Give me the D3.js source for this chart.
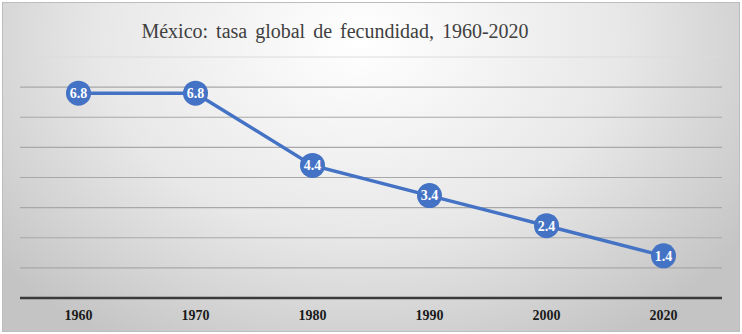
<!DOCTYPE html>
<html lang="es">
<head>
<meta charset="UTF-8">
<title>México: tasa global de fecundidad</title>
<script src="https://d3js.org/d3.v7.min.js"></script>
<style>
  body { margin: 0; }
  .serif { font-family: "Liberation Serif", "Times New Roman", serif; }
</style>
</head>
<body>
<div class="chart"></div>
<script>
  const years = ['1960', '1970', '1980', '1990', '2000', '2020'];
  const fecundidad = [6.8, 6.8, 4.4, 3.4, 2.4, 1.4];
  const yTicks = [0, 1, 2, 3, 4, 5, 6, 7, 8];

  const W = 742, H = 334;
  const plot = { left: 20, right: 722, top: 57, bottom: 298 };

  const svg = d3.select('.chart').append('svg')
    .attr('width', W).attr('height', H);

  const defs = svg.append('defs');
  const grad = defs.append('radialGradient').attr('id', 'bg')
    .attr('gradientUnits', 'userSpaceOnUse')
    .attr('cx', 360).attr('cy', 40).attr('r', 470)
    .attr('gradientTransform', 'translate(360 40) scale(1 0.75) translate(-360 -40)');
  grad.append('stop').attr('offset', '0%').attr('stop-color', '#ffffff');
  grad.append('stop').attr('offset', '55%').attr('stop-color', '#e8e8e8');
  grad.append('stop').attr('offset', '100%').attr('stop-color', '#c4c4c4');

  svg.append('rect').attr('x', 0).attr('y', 0).attr('width', W).attr('height', H).attr('fill', '#ffffff');
  svg.append('rect').attr('x', 2.5).attr('y', 2.5).attr('width', W - 5).attr('height', H - 5)
    .attr('fill', 'url(#bg)').attr('stroke', '#bdbdbd').attr('stroke-width', 1);

  const x = d3.scaleBand().domain(years).range([plot.left, plot.right]);
  const y = d3.scaleLinear().domain([0, 8]).range([plot.bottom, plot.top]);

  // gridlines
  svg.append('g').selectAll('line').data(yTicks.slice(1)).enter().append('line')
    .attr('x1', plot.left).attr('x2', plot.right)
    .attr('y1', d => y(d)).attr('y2', d => y(d))
    .attr('stroke', d => d === 8 ? '#dcdcdc' : '#a8a8a8')
    .attr('stroke-width', 1.2);

  // x axis
  const xAxis = svg.append('g').attr('transform', `translate(0 ${plot.bottom})`)
    .call(d3.axisBottom(x).tickSize(0).tickPadding(12));
  xAxis.select('.domain').attr('stroke', '#3a3a3a').attr('stroke-width', 2.5)
    .attr('d', `M${plot.left},0H${plot.right}`);
  xAxis.selectAll('.tick text').attr('class', 'serif')
    .attr('font-family', null)
    .attr('font-size', 14).attr('font-weight', 'bold').attr('fill', '#1a1a1a');

  // title
  svg.append('text').attr('class', 'serif')
    .attr('x', 335).attr('y', 38).attr('text-anchor', 'middle')
    .attr('font-size', 20).attr('word-spacing', 3).attr('fill', '#404040')
    .text('México: tasa global de fecundidad, 1960-2020');

  const pts = years.map((yr, i) => ({ year: yr, value: fecundidad[i] }));
  const cx = d => x(d.year) + x.bandwidth() / 2;

  svg.append('path').datum(pts)
    .attr('fill', 'none').attr('stroke', '#4472c4').attr('stroke-width', 3.5)
    .attr('d', d3.line().x(cx).y(d => y(d.value)));

  const marks = svg.selectAll('.pt').data(pts).enter().append('g').attr('class', 'pt')
    .attr('transform', d => `translate(${cx(d)} ${y(d.value)})`);
  marks.append('circle').attr('r', 12.5).attr('fill', '#4472c4');
  marks.append('text').attr('class', 'serif')
    .attr('text-anchor', 'middle').attr('dy', '0.35em')
    .attr('font-size', 14).attr('font-weight', 'bold').attr('fill', '#ffffff')
    .text(d => d.value.toFixed(1));
</script>
</body>
</html>
